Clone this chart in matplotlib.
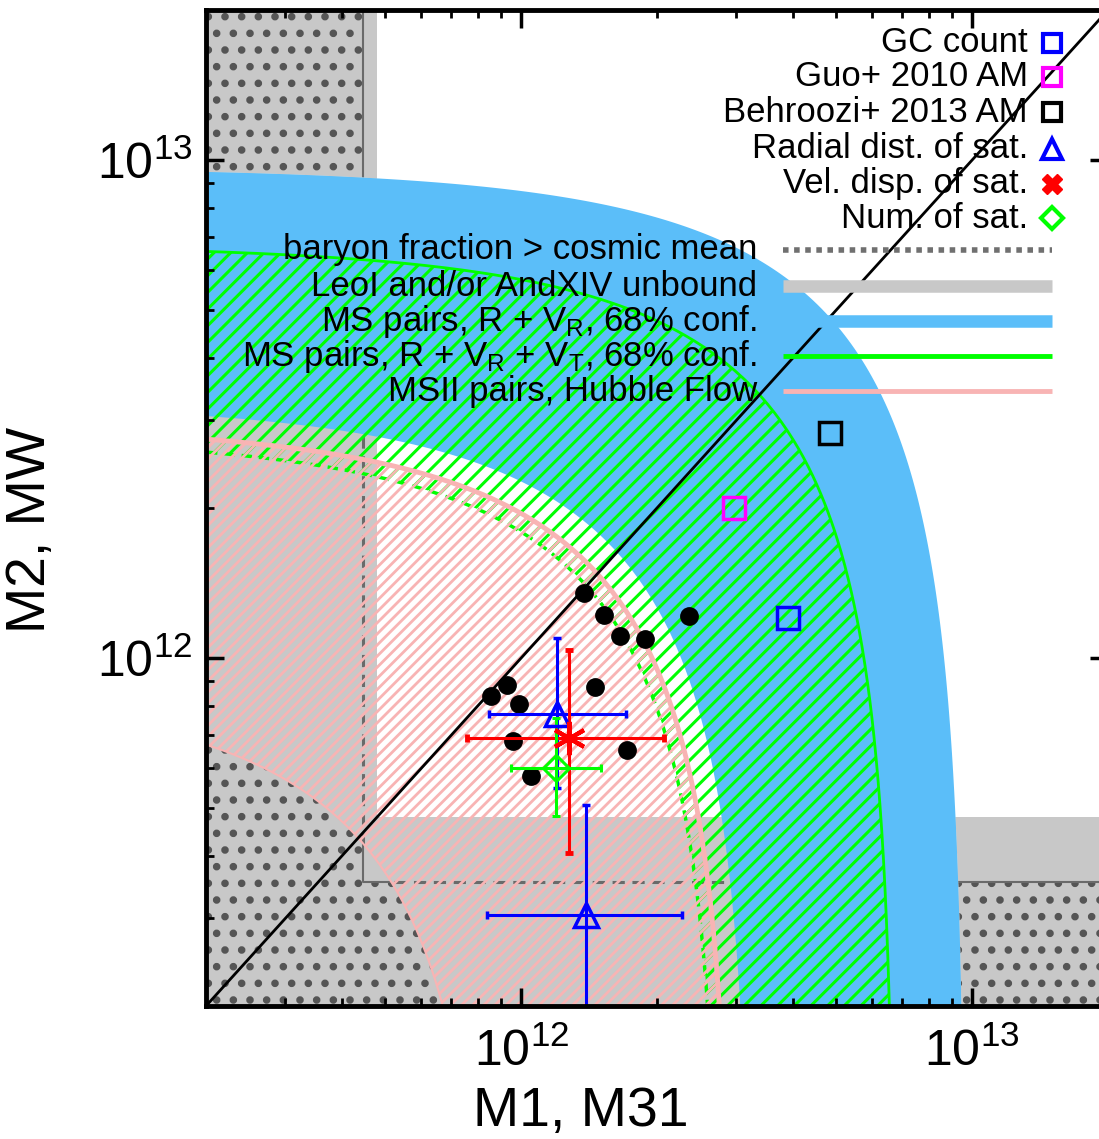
import numpy as np
import matplotlib
matplotlib.use('Agg')
import matplotlib.pyplot as plt
from matplotlib.patches import Polygon

plt.rcParams['font.family'] = ['Liberation Sans', 'DejaVu Sans']
plt.rcParams['mathtext.fontset'] = 'custom'
plt.rcParams['mathtext.rm'] = 'Liberation Sans'
plt.rcParams['mathtext.it'] = 'Liberation Sans:italic'
plt.rcParams['hatch.linewidth'] = 2.0

# axis range (Msun)
m_lo, m_hi = 2e11, 2e13

# total mass constraints M1 + M2 (inner, outer bound)
ms_rvr = [3.26e12, 9.66e12]      # MS pairs, R + VR
ms_rvrvt = [2.79e12, 6.75e12]    # MS pairs, R + VR + VT
msii_hf = [8.7e11, 2.95e12]      # MSII pairs, Hubble flow

# excluded regions
baryon_m1, baryon_m2 = 4.46e11, 3.55e11
unbound_m1, unbound_m2 = 4.8e11, 4.8e11

# black dots
pair_m1 = [1.377e12, 1.525e12, 1.654e12, 1.877e12, 2.353e12, 9.28e11,
           8.55e11, 9.88e11, 1.456e12, 9.58e11, 1.712e12, 1.049e12]
pair_m2 = [1.351e12, 1.222e12, 1.106e12, 1.093e12, 1.213e12, 8.82e11,
           8.40e11, 8.09e11, 8.73e11, 6.80e11, 6.53e11, 5.79e11]

# abundance matching / GC estimates
gc_m1, gc_m2 = 3.9e12, 1.2e12
guo_m1, guo_m2 = 2.97e12, 2.0e12
beh_m1, beh_m2 = 4.83e12, 2.83e12

# satellite estimates: value, lower, upper
rad_m1 = [1.20e12, 1.39e12]
rad_m1_lo = [8.48e11, 8.41e11]
rad_m1_hi = [1.704e12, 2.275e12]
rad_m2 = [7.72e11, 3.05e11]
rad_m2_lo = [5.48e11, 1.0e11]
rad_m2_hi = [1.097e12, 5.07e11]

vel_m1, vel_m1_lo, vel_m1_hi = 1.275e12, 7.59e11, 2.071e12
vel_m2, vel_m2_lo, vel_m2_hi = 6.91e11, 4.06e11, 1.039e12

num_m1, num_m1_lo, num_m1_hi = 1.197e12, 9.47e11, 1.499e12
num_m2, num_m2_lo, num_m2_hi = 6.01e11, 4.81e11, 7.58e11

blue = '#5bbef9'
green = '#00ff00'
pink = '#f8b4b4'
lgray = '#c8c8c8'
dgray = '#6a6a6a'

t = np.concatenate([np.logspace(-3, np.log10(0.5), 300),
                    1 - np.logspace(np.log10(0.5), -3, 300)[1:]])


def curve(c):
    return c * t, c * (1 - t)


def annulus(c_in, c_out):
    xo, yo = curve(c_out)
    xi, yi = curve(c_in)
    return np.column_stack([np.concatenate([xo, xi[::-1]]),
                            np.concatenate([yo, yi[::-1]])])


def hatch_lw(p, lw):
    if hasattr(p, 'set_hatch_linewidth'):
        p.set_hatch_linewidth(lw)


fig = plt.figure(figsize=(10.99, 11.39), dpi=100)
ax = fig.add_axes([206 / 1099, 1 - 1006 / 1139, 902 / 1099, 996 / 1139])
ax.set_xscale('log')
ax.set_yscale('log')
ax.set_xlim(m_lo, m_hi)
ax.set_ylim(m_lo, m_hi)

# unbound (light gray) and baryon (dotted) regions
ax.axvspan(1e10, unbound_m1, color=lgray, lw=0, zorder=1)
ax.axhspan(1e10, unbound_m2, color=lgray, lw=0, zorder=1)
for p in [ax.axvspan(1e10, baryon_m1, facecolor=lgray, edgecolor='#555555', lw=0, hatch='.', zorder=1.1),
          ax.axhspan(1e10, baryon_m2, facecolor=lgray, edgecolor='#555555', lw=0, hatch='.', zorder=1.1)]:
    hatch_lw(p, 3.0)
bx = [baryon_m1, baryon_m1, 1e14]
by = [1e14, baryon_m2, baryon_m2]
ax.plot(bx, by, color=dgray, lw=1.5, zorder=1.2)

# band covered by the mass constraints: no dots there
band = Polygon(annulus(msii_hf[0], ms_rvr[1]), closed=True, facecolor='white', lw=0, zorder=2)
ax.add_patch(band)
for p in [ax.axvspan(1e10, unbound_m1, color=lgray, lw=0, zorder=2.1),
          ax.axhspan(1e10, unbound_m2, color=lgray, lw=0, zorder=2.1)]:
    p.set_clip_path(band)
ln, = ax.plot(bx, by, color=dgray, lw=2.2, ls=(0, (4, 2.5)), zorder=2.2)
ln.set_clip_path(band)

# MS pairs R + VR
ax.add_patch(Polygon(annulus(*ms_rvr), closed=True, facecolor=blue, lw=0, zorder=3))

# MS pairs R + VR + VT
p = Polygon(annulus(*ms_rvrvt), closed=True, facecolor='none', edgecolor=green, lw=0, hatch='//', zorder=4)
hatch_lw(p, 2.2)
ax.add_patch(p)
x, y = curve(ms_rvrvt[1])
ax.plot(x, y, color=green, lw=2, zorder=4.1)
x, y = curve(ms_rvrvt[0])
ax.plot(x, y, color=green, lw=2.5, ls=(0, (3, 2)), zorder=4.1)

# MSII Hubble flow
p = Polygon(annulus(*msii_hf), closed=True, facecolor='none', edgecolor=pink, lw=0, hatch='///', zorder=4.5)
hatch_lw(p, 2.0)
ax.add_patch(p)
x, y = curve(msii_hf[1])
ax.plot(x, y, color=pink, lw=3.5, zorder=4.6)
x, y = curve(msii_hf[0])
ax.plot(x, y, color=pink, lw=1.5, zorder=4.6)

# M1 = M2
ax.plot([m_lo, m_hi], [m_lo, m_hi], color='black', lw=2, zorder=5)

ax.plot(pair_m1, pair_m2, 'o', color='black', ms=12.5, zorder=6)
ax.plot(gc_m1, gc_m2, 's', mfc='none', mec='blue', ms=16, mew=2.5, zorder=6)
ax.plot(guo_m1, guo_m2, 's', mfc='none', mec='#ff00ff', ms=16, mew=2.5, zorder=6)
ax.plot(beh_m1, beh_m2, 's', mfc='none', mec='black', ms=16, mew=2.5, zorder=6)

ekw = dict(elinewidth=2.2, capsize=3, capthick=3.5, zorder=6)
rm1 = np.array(rad_m1)
rm2 = np.array(rad_m2)
ax.errorbar(rm1, rm2,
            xerr=[rm1 - np.array(rad_m1_lo), np.array(rad_m1_hi) - rm1],
            yerr=[rm2 - np.array(rad_m2_lo), np.array(rad_m2_hi) - rm2],
            fmt='^', color='blue', mfc='none', mec='blue', ms=17, mew=2.5, **ekw)
ax.errorbar([vel_m1], [vel_m2],
            xerr=[[vel_m1 - vel_m1_lo], [vel_m1_hi - vel_m1]],
            yerr=[[vel_m2 - vel_m2_lo], [vel_m2_hi - vel_m2]],
            fmt='none', ecolor='red', **ekw)
ax.plot(vel_m1, vel_m2, marker=(6, 2, 0), color='red', ms=24, mew=3, zorder=6.1)
ax.errorbar([num_m1], [num_m2],
            xerr=[[num_m1 - num_m1_lo], [num_m1_hi - num_m1]],
            yerr=[[num_m2 - num_m2_lo], [num_m2_hi - num_m2]],
            fmt='D', color=green, mfc='none', mec=green, ms=13, mew=2.2, **ekw)

# legend, drawn by hand in figure pixels
W, H = 1099, 1139


def fx(px):
    return px / W


def fy(py):
    return 1 - py / H


marker_labels = ['GC count', 'Guo+ 2010 AM', 'Behroozi+ 2013 AM',
                 'Radial dist. of sat.', 'Vel. disp. of sat.', 'Num. of sat.']
marker_rows = [43, 77, 112, 149, 184, 218]
marker_style = [dict(marker='s', mfc='none', mec='blue', ms=13, mew=3),
                dict(marker='s', mfc='none', mec='#ff00ff', ms=13, mew=3),
                dict(marker='s', mfc='none', mec='black', ms=13, mew=3),
                dict(marker='^', mfc='none', mec='blue', ms=15, mew=3),
                dict(marker='X', mfc='red', mec='red', ms=14, mew=1),
                dict(marker='D', mfc='none', mec=green, ms=11, mew=3)]
for lab, row, st in zip(marker_labels, marker_rows, marker_style):
    fig.text(fx(1028), fy(row), lab, ha='right', va='center', fontsize=25)
    ax.plot([fx(1052)], [fy(row)], transform=fig.transFigure, clip_on=False, zorder=8, **st)

line_labels = ['baryon fraction > cosmic mean', 'LeoI and/or AndXIV unbound',
               r'MS pairs, R + V$_\mathrm{R}$, 68% conf.',
               r'MS pairs, R + V$_\mathrm{R}$ + V$_\mathrm{T}$, 68% conf.',
               'MSII pairs, Hubble Flow']
line_rows = [250, 286, 321, 356, 391]
line_style = [dict(color='#707070', lw=4, ls=(0, (1, 1))),
              dict(color=lgray, lw=9),
              dict(color=blue, lw=9),
              dict(color=green, lw=3.5),
              dict(color=pink, lw=3.5)]
for lab, row, st in zip(line_labels, line_rows, line_style):
    fig.text(fx(757), fy(row), lab, ha='right', va='center', fontsize=25)
    ax.plot([fx(783), fx(1052)], [fy(row), fy(row)], transform=fig.transFigure,
            clip_on=False, zorder=8, solid_capstyle='butt', dash_capstyle='butt', **st)

ax.set_xlabel('M1, M31', fontsize=40)
ax.set_ylabel('M2, MW', fontsize=40)
ax.xaxis.set_label_coords(0.415, -0.08)
ax.yaxis.set_label_coords(-0.165, 0.478)

ax.tick_params(which='both', direction='in', top=True, right=True)
ax.tick_params(which='major', length=13, width=2.5, labelsize=36)
ax.tick_params(axis='x', which='major', pad=16)
ax.tick_params(axis='y', which='major', pad=10)
ax.tick_params(which='minor', length=6, width=2)
ax.xaxis.set_zorder(10)
ax.yaxis.set_zorder(10)
for s in ax.spines.values():
    s.set_linewidth(3.5)
    s.set_zorder(10)

fig.savefig('out.png', dpi=100)
